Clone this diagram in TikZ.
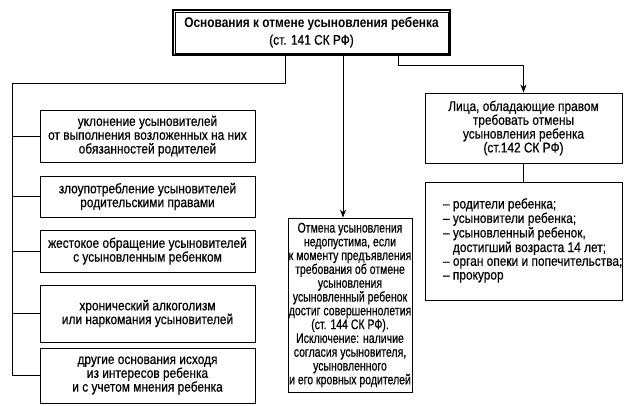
\documentclass[tikz,border=0pt]{standalone}
\usepackage{fontspec}
\setmainfont{Liberation Sans}[FakeStretch=0.85,UprightFeatures={FakeBold=0.5}]
\newfontfamily\narrowfont{Liberation Sans}[FakeStretch=0.75,FakeBold=0.5]
\usetikzlibrary{arrows.meta,calc}
\begin{document}
\begin{tikzpicture}[x=1pt,y=-1pt,
  box/.style={draw,line width=0.9pt,align=center,inner sep=0pt,font=\fontsize{14}{13.8}\selectfont},
  conn/.style={line width=0.8pt},
  arr/.style={conn,-{Stealth[length=8pt,width=6pt]}}]
\useasboundingbox (0,0) rectangle (630,405);
% top box
\node[draw,line width=1.8pt,minimum width=277pt,minimum height=45pt,inner sep=0pt,align=center,font=\fontsize{14}{17}\selectfont] (top) at (311.5,32.5)
  {\textbf{Основания к отмене усыновления ребенка}\\(ст. 141 СК РФ)};
\draw[line width=0.6pt] ([shift={(2.8pt,-2.8pt)}]top.north west) rectangle ([shift={(-2.8pt,2.8pt)}]top.south east);
% left boxes
\node[box,minimum width=215pt,minimum height=52pt] (b1) at (147.5,136) {уклонение усыновителей\\от выполнения возложенных на них\\обязанностей родителей};
\node[box,minimum width=215pt,minimum height=41pt] (b2) at (147.5,196.5) {злоупотребление усыновителей\\родительскими правами};
\node[box,minimum width=215pt,minimum height=42pt] (b3) at (147.5,251) {жестокое обращение усыновителей\\с усыновленным ребенком};
\node[box,minimum width=215pt,minimum height=57pt] (b4) at (147.5,313.5) {хронический алкоголизм\\или наркомания усыновителей};
\node[box,minimum width=215pt,minimum height=55pt] (b5) at (147.5,375.5) {другие основания исходя\\из интересов ребенка\\и с учетом мнения ребенка};
% middle box
\node[box,minimum width=124pt,minimum height=174pt,font=\narrowfont\fontsize{14}{13.8}\selectfont] (mid) at (350,305) {Отмена усыновления\\недопустима, если\\к моменту предъявления\\требования об отмене\\усыновления\\усыновленный ребенок\\достиг совершеннолетия\\(ст. 144 СК РФ).\\Исключение: наличие\\согласия усыновителя,\\усыновленного\\и его кровных родителей};
% right boxes
\node[box,minimum width=197pt,minimum height=70pt] (r1) at (523.5,128) {Лица, обладающие правом\\требовать отмены\\усыновления ребенка\\(ст.142 СК РФ)};
\node[box,minimum width=197pt,minimum height=118pt] (r2) at (523.5,241) {\makebox[197pt][l]{\hspace*{18pt}\begin{tabular}{@{}l@{}}– родители ребенка;\\– усыновители ребенка;\\– усыновленный ребенок,\\\phantom{– }достигший возраста 14 лет;\\– орган опеки и попечительства;\\– прокурор\end{tabular}}};
% connectors
\coordinate (jl) at (285,83);
\coordinate (lt) at (12,83);
\coordinate (lb) at (12,375.5);
\coordinate (jm) at (343,60);
\coordinate (jr) at (398,65);
\draw[conn] (top.south -| jl) -- (jl) -- (lt) -- (lb);
\foreach \b in {b1,b2,b3,b4,b5} \draw[conn] (lb |- \b.west) -- (\b.west);
\draw[arr] (top.south -| jm) -- (jm |- mid.north);
\draw[arr] (top.south -| jr) -- (jr) -| (r1.north);
\draw[conn] (r1.south) -- (r2.north);
\end{tikzpicture}
\end{document}
